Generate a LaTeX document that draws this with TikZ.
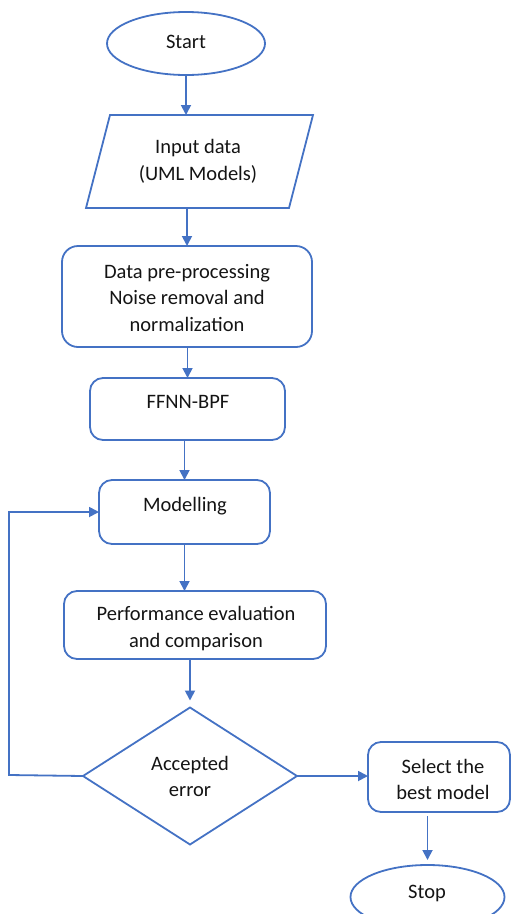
\documentclass[tikz,border=0pt]{standalone}
\usepackage{fontspec}
\setmainfont{Carlito}
\usetikzlibrary{shapes.geometric,arrows.meta}
\definecolor{flowblue}{RGB}{68,114,196}
\definecolor{inkgray}{RGB}{20,20,20}
\begin{document}
\begin{tikzpicture}[x=1pt,y=-1pt,
  every node/.style={inner sep=0pt, outer sep=0pt},
  shapeline/.style={draw=flowblue, line width=1.8pt},
  terminal/.style={shapeline, ellipse},
  procbox/.style={shapeline, rectangle, rounded corners=13pt},
  iobox/.style={rectangle},
  decision/.style={shapeline, diamond},
  txt/.style={text=inkgray, align=center, font=\fontsize{20.5}{26.5}\selectfont},
  arr/.style={draw=flowblue, line width=1.8pt, -{Triangle[length=10pt,width=10pt]}}
]
\useasboundingbox (0,0) rectangle (511,914);

% shapes
\node[terminal, minimum width=158pt, minimum height=63pt] (start) at (186,43.5) {};
\node[iobox, minimum width=227pt, minimum height=93pt] (in) at (199.5,161.5) {};
\draw[shapeline, line join=miter]
  ([xshift=24pt]in.north west) -- (in.north east) --
  ([xshift=-24pt]in.south east) -- (in.south west) -- cycle;
\node[procbox, rounded corners=16pt, minimum width=250pt, minimum height=101pt] (data) at (187,296.5) {};
\node[procbox, minimum width=195pt, minimum height=62pt] (ffnn) at (187.5,409) {};
\node[procbox, minimum width=171pt, minimum height=64pt] (model) at (184.5,512) {};
\node[procbox, minimum width=262pt, minimum height=68pt] (perf) at (195,625) {};
\node[decision, minimum width=214pt, minimum height=137pt] (dec) at (190,776) {};
\node[procbox, minimum width=142pt, minimum height=70pt] (sel) at (439,777) {};
\node[terminal, minimum width=154pt, minimum height=64pt] (stop) at (427.5,897) {};

% labels
\node[txt] (startT) at (186,42) {Start};
\node[txt] (inT) at (198,161.5) {Input data\\(UML Models)};
\node[txt] (dataT) at (187,298) {Data pre-processing\\Noise removal and\\normalization};
\node[txt] (ffnnT) at (188,402) {FFNN-BPF};
\node[txt] (modelT) at (185,506) {Modelling};
\node[txt] (perfT) at (196,628.5) {Performance evaluation\\and comparison};
\node[txt] (decT) at (190,776.5) {Accepted\\error};
\node[txt] (selT) at (443,779.5) {Select the\\best model};
\node[txt] (stopT) at (427,893) {Stop};

% connectors
\coordinate (loop) at (9,775);
\draw[arr] (start.south) -- (start.south |- in.north);
\draw[arr] (in.south -| data.north) -- (data.north);
\draw[arr] (data.south -| ffnn.north) -- (ffnn.north);
\draw[arr] (ffnn.south -| model.north) -- (model.north);
\draw[arr] (model.south) -- (model.south |- perf.north);
\draw[arr, shorten >=7pt] (perf.south -| dec.north) -- (dec.north);
\draw[arr] (dec.west) -- (loop) |- (model.west);
\draw[arr] (dec.east) -- (dec.east -| sel.west);
\draw[arr, shorten <=4pt, shorten >=5pt] (sel.south -| stop.north) -- (stop.north);
\end{tikzpicture}
\end{document}
